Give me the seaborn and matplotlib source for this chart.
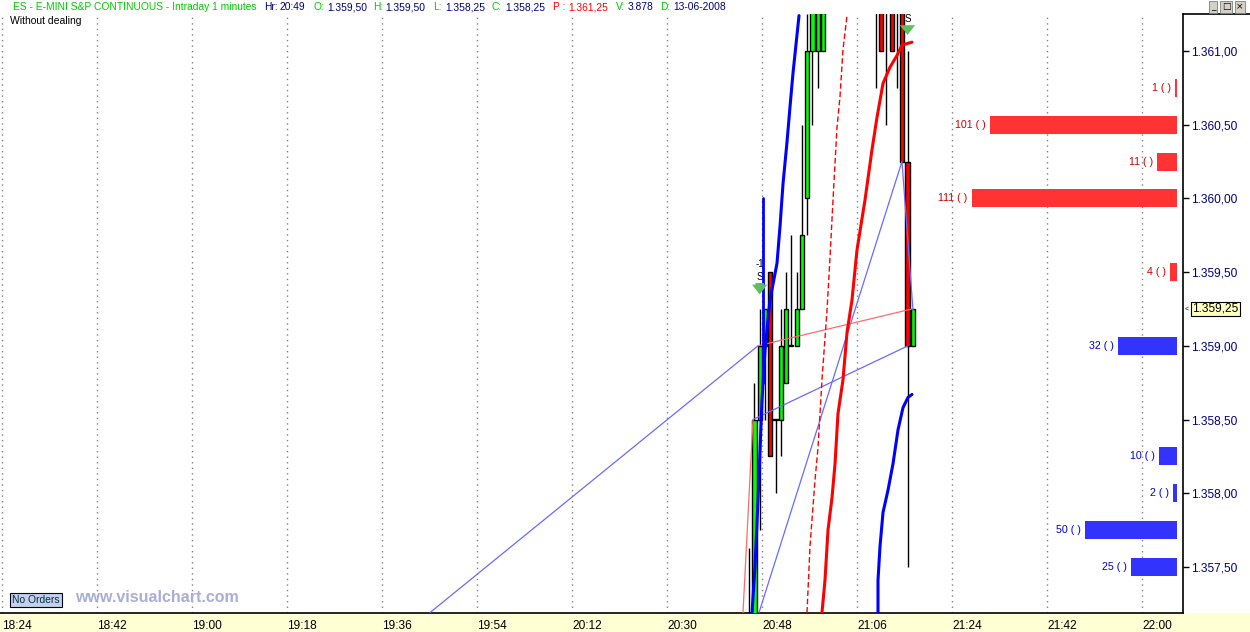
import matplotlib
matplotlib.use("Agg")
import matplotlib.pyplot as plt
from matplotlib.patches import Rectangle
from matplotlib.lines import Line2D
import seaborn as sns

# ---------------- data ----------------
TICK_LABELS = ["18:24", "18:42", "19:00", "19:18", "19:36", "19:54", "20:12",
               "20:30", "20:48", "21:06", "21:24", "21:42", "22:00"]
PRICE_TICKS = [1357.5, 1358.0, 1358.5, 1359.0, 1359.5, 1360.0, 1360.5, 1361.0]

# 1-minute candles (times as HH:MM)
CANDLE_TIME = ["20:45", "20:46", "20:47", "20:48", "20:49", "20:50", "20:51", "20:52",
               "20:53", "20:54", "20:55", "20:56", "20:57", "20:58", "20:59",
               "21:09", "21:10", "21:11", "21:12", "21:13", "21:14", "21:15", "21:16"]
CANDLE_OPEN = [1356.75, 1356.75, 1358.50, 1359.00, 1359.50, 1358.50, 1358.50, 1358.75,
               1359.00, 1359.00, 1359.25, 1360.00, 1361.00, 1361.00, 1361.00,
               1362.00, 1362.00, 1361.75, 1361.75, 1361.75, 1361.50, 1360.25, 1359.00]
CANDLE_HIGH = [1357.63, 1358.75, 1359.25, 1359.25, 1359.50, 1358.50, 1359.25, 1359.50,
               1359.75, 1359.50, 1360.50, 1361.25, 1362.25, 1362.50, 1363.00,
               1362.25, 1362.25, 1362.00, 1361.75, 1362.00, 1361.75, 1361.00, 1359.25]
CANDLE_LOW = [1356.50, 1356.50, 1357.75, 1358.50, 1358.25, 1358.00, 1358.25, 1358.75,
              1359.00, 1359.00, 1359.25, 1359.75, 1360.50, 1360.75, 1361.00,
              1360.75, 1361.00, 1360.50, 1361.00, 1360.75, 1360.25, 1357.50, 1359.00]
CANDLE_CLOSE = [1357.00, 1358.50, 1359.00, 1359.25, 1358.25, 1358.50, 1359.00, 1359.25,
                1359.00, 1359.25, 1359.75, 1361.00, 1362.00, 1362.00, 1362.50,
                1361.75, 1361.00, 1361.50, 1361.00, 1361.50, 1360.25, 1359.00, 1359.25]

# indicator lines: minutes after 18:24 and price
FAST_BLUE_T = [142.05, 142.61, 143.18, 143.94, 144.51, 145.45, 146.78, 147.35, 147.92,
               148.67, 149.24, 149.81, 150.95]
FAST_BLUE_P = [1357.19, 1357.50, 1357.95, 1358.63, 1358.97, 1359.31, 1359.56, 1359.81,
               1360.10, 1360.38, 1360.62, 1360.85, 1361.24]
JUMP_BLUE_T = [144.1, 144.1]
JUMP_BLUE_P = [1360.00, 1358.75]
SLOW_RED_T = [155.30, 155.87, 156.44, 157.20, 157.77, 158.33, 159.28, 160.04, 160.98,
              161.93, 163.45, 164.77, 165.72, 166.86, 168.18, 169.51, 170.45, 171.40, 172.35]
SLOW_RED_P = [1357.19, 1357.41, 1357.75, 1357.97, 1358.20, 1358.54, 1358.77, 1359.09,
              1359.31, 1359.65, 1359.99, 1360.33, 1360.55, 1360.78, 1360.89, 1360.97,
              1361.04, 1361.05, 1361.06]
DASH_RED_T = [152.46, 153.03, 153.98, 154.55, 155.30, 156.25, 156.82, 157.39, 158.14,
              158.71, 159.28, 160.04]
DASH_RED_P = [1357.19, 1357.64, 1358.09, 1358.31, 1358.77, 1359.24, 1359.60, 1359.99,
              1360.48, 1360.69, 1361.01, 1361.24]
LOW_BLUE_T = [165.91, 165.91, 166.29, 166.86, 167.80, 168.75, 169.70, 170.64, 171.59, 172.35]
LOW_BLUE_P = [1357.19, 1357.41, 1357.64, 1357.87, 1358.02, 1358.20, 1358.43, 1358.58,
              1358.65, 1358.67]

# thin connecting lines
THIN_BLUE_1_T = [81.06, 143.18]
THIN_BLUE_1_P = [1357.19, 1359.00]
THIN_BLUE_2_T = [143.37, 170.45, 172.54]
THIN_BLUE_2_P = [1357.19, 1360.25, 1359.24]
THIN_BLUE_3_T = [142.23, 171.59]
THIN_BLUE_3_P = [1358.50, 1359.00]
THIN_PINK_1_T = [140.34, 142.23]
THIN_PINK_1_P = [1357.19, 1358.50]
THIN_PINK_2_T = [143.18, 172.35]
THIN_PINK_2_P = [1359.00, 1359.25]

# order book (depth) on the right
ASK_PRICE = [1360.75, 1360.50, 1360.25, 1360.00, 1359.50]
ASK_SIZE = [1, 101, 11, 111, 4]
BID_PRICE = [1359.00, 1358.25, 1358.00, 1357.75, 1357.50]
BID_SIZE = [32, 10, 2, 50, 25]
LAST_PRICE = 1359.25

# ---------------- helpers ----------------
W, H = 1250, 632
PX_MIN = 5.28          # pixels per minute
PX_PT = 147.4          # pixels per index point


def to_min(hhmm):
    h, m = hhmm.split(":")
    return int(h) * 60 + int(m) - (18 * 60 + 24)


def fmt_price(p):
    return f"{p:,.2f}".replace(",", "X").replace(".", ",").replace("X", ".")


sns.set_style("white")
plt.rcParams["font.family"] = ["Liberation Sans", "DejaVu Sans"]

NAVY = "#000080"
fig = plt.figure(figsize=(W / 100, H / 100), dpi=100, facecolor="white")
ax = fig.add_axes([0, 19 / H, 1183 / W, 599 / H])

x0 = -2 / PX_MIN
x1 = x0 + 1183 / PX_MIN
y0 = 1361.0 - (613 - 51) / PX_PT
y1 = 1361.0 + (51 - 14) / PX_PT
ax.set_xlim(x0, x1)
ax.set_ylim(y0, y1)

# vertical dotted grid
ax.set_xticks([18 * i for i in range(len(TICK_LABELS))])
ax.set_xticklabels(TICK_LABELS, ha="left", fontsize=8.6, color="black")
ax.grid(axis="x", color="#808080", linestyle=(0, (1, 3)), lw=1)
ax.grid(axis="y", visible=False)
ax.set_axisbelow(True)

ax.yaxis.tick_right()
ax.set_yticks(PRICE_TICKS)
ax.set_yticklabels([fmt_price(p) for p in PRICE_TICKS], fontsize=8.6, color=NAVY)
ax.tick_params(axis="both", direction="out", length=4, width=1, color="black", pad=2)
ax.tick_params(axis="x", pad=1)
for s in ["top", "left"]:
    ax.spines[s].set_visible(False)
for s in ["bottom", "right"]:
    ax.spines[s].set_color("black")
    ax.spines[s].set_linewidth(1.2)

# candles
cw = 0.8
for t, o, hi, lo, c in zip(CANDLE_TIME, CANDLE_OPEN, CANDLE_HIGH, CANDLE_LOW, CANDLE_CLOSE):
    xc = to_min(t) + 0.5
    ax.vlines(xc, lo, hi, color="black", lw=1, zorder=2)
    col = "#00ff00" if c >= o else "#ff0000"
    bottom = min(o, c)
    hgt = max(abs(c - o), 0.004)
    ax.add_patch(Rectangle((xc - cw / 2, bottom), cw, hgt, fc=col, ec="black", lw=1, zorder=3))

# indicator lines
line_kw = dict(ax=ax, sort=False, estimator=None, legend=False)
sns.lineplot(x=THIN_BLUE_1_T, y=THIN_BLUE_1_P, color="#6a6aff", lw=0.9, zorder=4, **line_kw)
sns.lineplot(x=THIN_BLUE_2_T, y=THIN_BLUE_2_P, color="#6a6aff", lw=0.9, zorder=4, **line_kw)
sns.lineplot(x=THIN_BLUE_3_T, y=THIN_BLUE_3_P, color="#6a6aff", lw=0.9, zorder=4, **line_kw)
sns.lineplot(x=THIN_PINK_1_T, y=THIN_PINK_1_P, color="#ff6a6a", lw=0.9, zorder=4, **line_kw)
sns.lineplot(x=THIN_PINK_2_T, y=THIN_PINK_2_P, color="#ff6a6a", lw=0.9, zorder=4, **line_kw)
sns.lineplot(x=DASH_RED_T, y=DASH_RED_P, color="#ff0000", lw=1.0, linestyle=(0, (4, 2)),
             zorder=5, **line_kw)
sns.lineplot(x=FAST_BLUE_T, y=FAST_BLUE_P, color="#0000ff", lw=2.2, zorder=5, **line_kw)
sns.lineplot(x=JUMP_BLUE_T, y=JUMP_BLUE_P, color="#0000ff", lw=2.0, zorder=5, **line_kw)
sns.lineplot(x=SLOW_RED_T, y=SLOW_RED_P, color="#ff0000", lw=2.2, zorder=5, **line_kw)
sns.lineplot(x=LOW_BLUE_T, y=LOW_BLUE_P, color="#0000ff", lw=2.2, zorder=5, **line_kw)
ax.set_xlabel("")
ax.set_ylabel("")

# order book bars
right = (1177 - 2) / PX_MIN
unit = 1.85 / PX_MIN
bar_h = 18 / PX_PT
gap = 4 / PX_MIN
for prices, sizes, fc, tc in [(ASK_PRICE, ASK_SIZE, "#ff3333", "#cc0000"),
                              (BID_PRICE, BID_SIZE, "#3333ff", "#0000cc")]:
    widths = [s * unit for s in sizes]
    ax.barh(prices, widths, left=[right - w for w in widths], height=bar_h,
            color=fc, edgecolor="none", zorder=3)
    for p, s, w in zip(prices, sizes, widths):
        ax.text(right - w - gap, p, f"{s} ( )", ha="right", va="center",
                fontsize=7.7, color=tc, zorder=6)

# signal markers
def signal(t, p_text, p_arrow_top, p_arrow_bot, extra=None):
    xc = to_min(t) + 0.5
    if extra is not None:
        ax.text(xc, extra, "-1", ha="center", va="center", fontsize=7, color="black")
    ax.text(xc, p_text, "S", ha="center", va="center", fontsize=7, color="black")
    ax.annotate("", xy=(xc, p_arrow_bot), xytext=(xc, p_arrow_top),
                arrowprops=dict(arrowstyle="simple,head_width=1.1,head_length=0.7,tail_width=0.6",
                                color="#5ebf5e", lw=0), zorder=6)

signal("20:47", 1359.47, 1359.445, 1359.33, extra=1359.555)
signal("21:15", 1361.215, 1361.19, 1361.09)

# last price tag
ax.annotate(fmt_price(LAST_PRICE), xy=(1, LAST_PRICE), xycoords=("axes fraction", "data"),
            xytext=(9, 0), textcoords="offset pixels", ha="left", va="center",
            fontsize=8.6, color="black", annotation_clip=False,
            bbox=dict(boxstyle="square,pad=0.12", fc="#ffffc0", ec="black", lw=0.8))
ax.annotate("<", xy=(1, LAST_PRICE), xycoords=("axes fraction", "data"),
            xytext=(2, 0), textcoords="offset pixels", ha="left", va="center",
            fontsize=5, color="black", annotation_clip=False)

# bottom time band & right panel frame
fig.patches.append(Rectangle((0, 0), 1, 19 / H, transform=fig.transFigure,
                             fc="#ffffd4", ec="none", zorder=-1))
fig.lines.append(Line2D([1183 / W, 1], [1 - 14 / H] * 2, transform=fig.transFigure,
                        color="black", lw=1.2))

# header
header = [("ES - E-MINI S&P CONTINUOUS - Intraday 1 minutes", "#00cc00", 13),
          ("Hr:", NAVY, 264), ("20:49", NAVY, 280),
          ("O:", "#00cc00", 313), ("1.359,50", NAVY, 327),
          ("H:", "#00cc00", 373), ("1.359,50", NAVY, 385),
          ("L:", "#00cc00", 433), ("1.358,25", NAVY, 445),
          ("C:", "#00cc00", 492), ("1.358,25", NAVY, 505),
          ("P :", "#ff0000", 553), ("1.361,25", "#ff0000", 568),
          ("V:", "#00cc00", 616), ("3.878", NAVY, 628),
          ("D:", "#00cc00", 660), ("13-06-2008", NAVY, 673)]
for txt, col, xp in header:
    fig.text(xp / W, 1 - 7 / H, txt, color=col, fontsize=7.4, ha="left", va="center")
fig.text(10 / W, 1 - 21 / H, "Without dealing", color="black", fontsize=7.5,
         ha="left", va="center")

# window buttons
for xp, sym in [(1213, "_"), (1226, "□"), (1240, "×")]:
    fig.text(xp / W, 1 - 7 / H, sym, ha="center", va="center", fontsize=6.5,
             color="black", family=["DejaVu Sans"],
             bbox=dict(boxstyle="square,pad=0.15", fc="#d4d0c8", ec="#808080", lw=0.6))

# bottom-left badges
fig.text(36 / W, 1 - 600 / H, "No Orders", ha="center", va="center", fontsize=7.4,
         color="#003040",
         bbox=dict(boxstyle="square,pad=0.2", fc="#c4d0ec", ec="#000020", lw=0.8))
fig.text(75 / W, 1 - 598 / H, "www.visualchart.com", ha="left", va="center",
         fontsize=11.5, fontweight="bold", color="#a9aed6")

fig.savefig("out.png", dpi=100, facecolor="white")
